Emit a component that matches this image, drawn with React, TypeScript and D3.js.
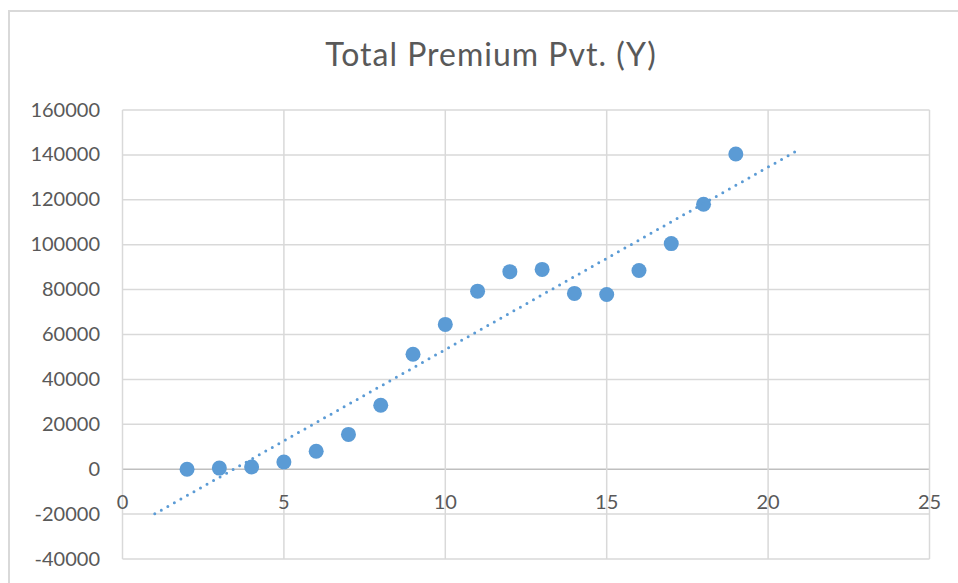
import React from "react";
import * as d3 from "d3";

const title = "Total Premium Pvt. (Y)";
const xValues = [2, 3, 4, 5, 6, 7, 8, 9, 10, 11, 12, 13, 14, 15, 16, 17, 18, 19];
const yValues = [0, 500, 1000, 3200, 8000, 15500, 28500, 51200, 64500, 79300, 88000, 89000, 78300, 77800, 88500, 100500, 118000, 140400];
const xTicks = [0, 5, 10, 15, 20, 25];
const yTicks = [-40000, -20000, 0, 20000, 40000, 60000, 80000, 100000, 120000, 140000, 160000];
const trendExtent = [1, 21];

const W = 958;
const H = 583;
const FONT = "Lato, 'Open Sans', sans-serif";

export default function App() {
  const x = d3.scaleLinear().domain([0, 25]).range([122.5, 929.5]);
  const y = d3.scaleLinear().domain([-40000, 160000]).range([559, 110]);

  const mx = d3.mean(xValues) as number;
  const my = d3.mean(yValues) as number;
  let sxy = 0, sxx = 0;
  xValues.forEach((xv, i) => {
    sxy += (xv - mx) * (yValues[i] - my);
    sxx += (xv - mx) * (xv - mx);
  });
  const slope = sxy / sxx;
  const intercept = my - slope * mx;
  const trend = trendExtent.map((t) => [t, intercept + slope * t] as [number, number]);
  const line = d3.line<[number, number]>().x((d) => x(d[0])).y((d) => y(d[1]));

  return (
    <svg width={W} height={H} style={{ position: "absolute", left: 0, top: 0, background: "#fff" }}>
      <rect x={9} y={11} width={W + 20} height={H + 20} fill="#fff" stroke="#d9d9d9" strokeWidth={2} />
      <text x={491} y={66} textAnchor="middle" fontFamily={FONT} fontSize={32} letterSpacing={1} fill="#595959">{title}</text>
      {yTicks.map((t) => (
        <line key={"gy" + t} x1={x(0)} x2={x(25)} y1={y(t)} y2={y(t)} stroke={t === 0 ? "#bfbfbf" : "#d9d9d9"} strokeWidth={1.5} />
      ))}
      {xTicks.map((t) => (
        <line key={"gx" + t} x1={x(t)} x2={x(t)} y1={y(-40000)} y2={y(160000)} stroke="#d9d9d9" strokeWidth={1.5} />
      ))}
      {yTicks.map((t) => (
        <text key={"ly" + t} x={100} y={y(t) - 1.5} textAnchor="end" dominantBaseline="central" fontFamily={FONT} fontSize={20} fill="#595959">{t}</text>
      ))}
      {xTicks.map((t) => (
        <text key={"lx" + t} x={x(t)} y={y(0) + 32} textAnchor="middle" dominantBaseline="central" fontFamily={FONT} fontSize={20} fill="#595959">{t}</text>
      ))}
      {xValues.map((xv, i) => (
        <circle key={"p" + i} cx={x(xv)} cy={y(yValues[i])} r={7.5} fill="#5b9bd5" />
      ))}
      <path d={line(trend) || ""} fill="none" stroke="#5b9bd5" strokeWidth={3} strokeLinecap="round" strokeDasharray="0 7.5" />
    </svg>
  );
}
